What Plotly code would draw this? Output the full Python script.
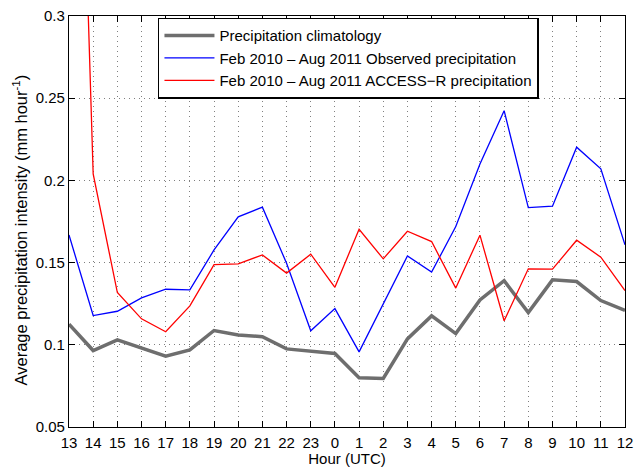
import plotly.graph_objects as go

hours = ["13", "14", "15", "16", "17", "18", "19", "20", "21", "22", "23",
         "0", "1", "2", "3", "4", "5", "6", "7", "8", "9", "10", "11", "12"]

climatology = [0.1125, 0.0965, 0.103, 0.098, 0.0931, 0.0969, 0.1087, 0.106,
               0.1049, 0.0975, 0.0963, 0.0947, 0.080, 0.0795, 0.1036, 0.1176,
               0.1068, 0.1273, 0.139, 0.1196, 0.1395, 0.1385, 0.1269, 0.121]

observed = [0.1668, 0.1178, 0.1204, 0.1285, 0.1338, 0.1334, 0.1577, 0.1778,
            0.1837, 0.1496, 0.1085, 0.122, 0.0957, 0.125, 0.154, 0.1442,
            0.1719, 0.210, 0.2424, 0.1834, 0.1843, 0.2202, 0.207, 0.1608]

access_r = [0.68, 0.204, 0.1318, 0.1158, 0.1079, 0.1237, 0.1488, 0.1492,
            0.1547, 0.1436, 0.1551, 0.135, 0.1703, 0.1523, 0.1691, 0.1628,
            0.1345, 0.1667, 0.1146, 0.1462, 0.146, 0.1636, 0.1533, 0.133]

y_ticks = [0.05, 0.1, 0.15, 0.2, 0.25, 0.3]

font_family = "Liberation Sans, Arial, sans-serif"

fig = go.Figure()
fig.add_trace(go.Scatter(
    x=hours, y=climatology, mode="lines",
    name="Precipitation climatology",
    line=dict(color="rgb(110,110,110)", width=3.5),
))
fig.add_trace(go.Scatter(
    x=hours, y=observed, mode="lines",
    name="Feb 2010 \u2013 Aug 2011 Observed precipitation",
    line=dict(color="rgb(0,0,255)", width=1.3),
))
fig.add_trace(go.Scatter(
    x=hours, y=access_r, mode="lines",
    name="Feb 2010 \u2013 Aug 2011 ACCESS\u2212R precipitation",
    line=dict(color="rgb(255,0,0)", width=1.3),
))

axis_common = dict(
    showline=True, linecolor="black", linewidth=1.2, mirror="allticks",
    ticks="inside", ticklen=6, tickcolor="black", tickwidth=1,
    showgrid=True, gridcolor="rgba(0,0,0,0.5)", griddash="1px,4px", gridwidth=1,
    zeroline=False, automargin=False,
    tickfont=dict(family=font_family, size=15, color="black"),
)

fig.update_xaxes(
    type="category", categoryorder="array", categoryarray=hours,
    range=[0, len(hours) - 1],
    ticklabelstandoff=2,
    title_text="Hour (UTC)", title_standoff=0,
    title_font=dict(family=font_family, size=15, color="black"),
    **axis_common,
)
fig.update_yaxes(
    range=[0.05, 0.3], tickvals=y_ticks,
    ticktext=[f"{v:g}" for v in y_ticks],
    **axis_common,
)

# vertical axis label, placed as a rotated annotation left of the tick labels
fig.add_annotation(
    text="Average precipitation intensity (mm hour<sup>-1</sup>)",
    xref="paper", yref="paper", x=0, y=0.5,
    xanchor="center", yanchor="middle",
    xshift=-49, yshift=-9, textangle=-90, showarrow=False,
    font=dict(family=font_family, size=16.5, color="black"),
)

fig.update_layout(
    width=635, height=467,
    margin=dict(l=69, r=10, t=16, b=40),
    paper_bgcolor="white", plot_bgcolor="white",
    font=dict(family=font_family, size=15, color="black"),
    showlegend=True,
    legend=dict(
        x=0.160, y=0.996, xanchor="left", yanchor="top",
        bgcolor="white", bordercolor="black", borderwidth=1.5,
        font=dict(family=font_family, size=15, color="black"),
        tracegroupgap=0, itemwidth=50,
    ),
)

fig.write_html("out.html")
